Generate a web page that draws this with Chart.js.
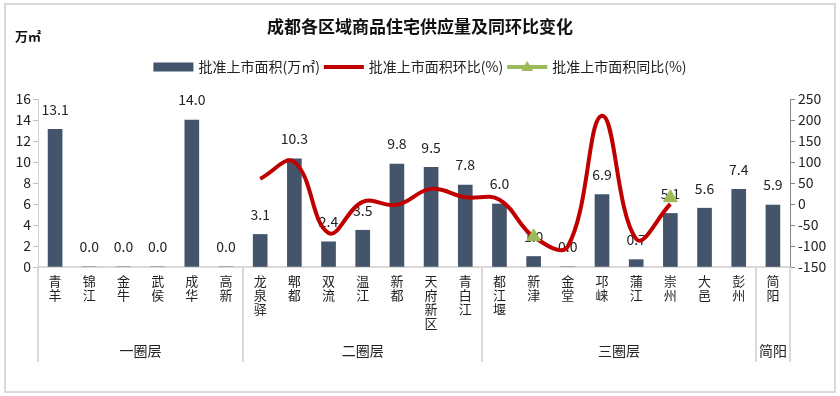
<!DOCTYPE html>
<html>
<head>
<meta charset="utf-8">
<script src="https://cdn.jsdelivr.net/npm/chart.js@4.4.0/dist/chart.umd.min.js"></script>
<style>
  html, body { margin: 0; padding: 0; background: #fff; }
</style>
</head>
<body>
<canvas id="supplyChart" width="840" height="396"></canvas>
<script>
  // districts along the x axis
  var districts = ['青羊', '锦江', '金牛', '武侯', '成华', '高新',
    '龙泉驿', '郫都', '双流', '温江', '新都', '天府新区', '青白江',
    '都江堰', '新津', '金堂', '邛崃', '蒲江', '崇州', '大邑', '彭州', '简阳'];

  // ring groups (start index of each group, last one ends at districts.length)
  var groupNames = ['一圈层', '二圈层', '三圈层', '简阳'];
  var groupStarts = [0, 6, 13, 21];

  // 批准上市面积 (万㎡)
  var supply = [13.1, 0.0, 0.0, 0.0, 14.0, 0.0, 3.1, 10.3, 2.4, 3.5, 9.8, 9.5, 7.8,
    6.0, 1.0, 0.0, 6.9, 0.7, 5.1, 5.6, 7.4, 5.9];

  // 环比 (%)
  var momChange = [null, null, null, null, null, null, 60, 100, -69, 5, -2, 36, 16,
    10, -78, -101, 210, -83, 0, null, null, null];

  // 同比 (%)
  var yoyChange = [null, null, null, null, null, null, null, null, null, null, null, null, null,
    null, -78, null, null, null, 15, null, null, null];

  var leftTicks = { min: 0, max: 16, step: 2 };
  var rightTicks = { min: -150, max: 250, step: 50 };

  var FONT = "'Noto Sans CJK SC', 'Noto Sans', sans-serif";
  Chart.defaults.font.family = FONT;
  Chart.defaults.color = '#222';

  var decor = {
    id: 'decor',
    beforeDraw: function (chart) {
      var c = chart.ctx;
      c.save();
      c.fillStyle = '#fff';
      c.fillRect(0, 0, chart.width, chart.height);
      c.strokeStyle = '#d9d9d9';
      c.lineWidth = 2;
      c.strokeRect(5, 4, chart.width - 10, chart.height - 8);
      c.restore();
    },
    afterDatasetDraw: function (chart, args) {
      // value labels above the bars, drawn before the lines
      if (args.index !== 0) return;
      var c = chart.ctx;
      c.save();
      c.font = '14px ' + FONT;
      c.fillStyle = '#222';
      c.textAlign = 'center';
      c.textBaseline = 'middle';
      args.meta.data.forEach(function (bar, i) {
        c.fillText(supply[i].toFixed(1), bar.x, bar.y - 20);
      });
      c.restore();
    },
    afterDraw: function (chart) {
      var c = chart.ctx;
      var x = chart.scales.x;
      c.save();

      // title + unit
      c.fillStyle = '#111';
      c.textAlign = 'center';
      c.textBaseline = 'middle';
      c.font = 'bold 17px ' + FONT;
      c.fillText('成都各区域商品住宅供应量及同环比变化', chart.width / 2, 27);
      c.textAlign = 'left';
      c.font = 'bold 13px ' + FONT;
      c.fillText('万㎡', 15, 36);

      // legend
      c.font = '14px ' + FONT;
      var ds = chart.data.datasets;
      var sw = 40, gap = 5, between = 4;
      var total = 0;
      ds.forEach(function (d, i) {
        total += sw + gap + c.measureText(d.label).width + (i < ds.length - 1 ? between : 0);
      });
      var lx = chart.width / 2 - total / 2;
      var ly = 67;
      ds.forEach(function (d, i) {
        if (i === 0) {
          c.fillStyle = d.backgroundColor;
          c.fillRect(lx, ly - 4.5, sw, 9);
        } else {
          c.strokeStyle = d.borderColor;
          c.lineWidth = 4;
          c.beginPath();
          c.moveTo(lx, ly);
          c.lineTo(lx + sw, ly);
          c.stroke();
          if (d.pointStyle === 'triangle') {
            c.fillStyle = d.backgroundColor;
            c.beginPath();
            c.moveTo(lx + sw / 2, ly - 6);
            c.lineTo(lx + sw / 2 + 6, ly + 4);
            c.lineTo(lx + sw / 2 - 6, ly + 4);
            c.closePath();
            c.fill();
          }
        }
        c.fillStyle = '#222';
        c.textAlign = 'left';
        c.fillText(d.label, lx + sw + gap, ly);
        lx += sw + gap + c.measureText(d.label).width + between;
      });

      // group separators and group names
      var step = (x.right - x.left) / districts.length;
      var bounds = groupStarts.concat([districts.length]);
      c.strokeStyle = '#d9d9d9';
      c.lineWidth = 2;
      bounds.forEach(function (k) {
        var px = Math.round(x.left + step * k);
        c.beginPath();
        c.moveTo(px, x.top);
        c.lineTo(px, 362);
        c.stroke();
      });
      c.fillStyle = '#222';
      c.textAlign = 'center';
      c.font = '14px ' + FONT;
      groupNames.forEach(function (name, g) {
        var mid = x.left + step * (bounds[g] + bounds[g + 1]) / 2;
        c.fillText(name, mid, 351);
      });
      c.restore();
    }
  };

  var ctx = document.getElementById('supplyChart').getContext('2d');

  var supplyChart = new Chart(ctx, {
    data: {
      labels: districts.map(function (d) { return d.split(''); }),
      datasets: [
        {
          type: 'bar',
          label: '批准上市面积(万㎡)',
          data: supply,
          backgroundColor: '#44546A',
          barThickness: 14,
          yAxisID: 'y',
          order: 3
        },
        {
          type: 'line',
          label: '批准上市面积环比(%)',
          data: momChange,
          borderColor: '#C00000',
          backgroundColor: '#C00000',
          borderWidth: 4,
          pointRadius: 0,
          tension: 0.4,
          spanGaps: false,
          yAxisID: 'y1',
          order: 2
        },
        {
          type: 'line',
          label: '批准上市面积同比(%)',
          data: yoyChange,
          borderColor: '#9BBB59',
          backgroundColor: '#9BBB59',
          showLine: false,
          pointStyle: 'triangle',
          pointRadius: 8,
          yAxisID: 'y1',
          order: 1
        }
      ]
    },
    options: {
      responsive: false,
      animation: false,
      devicePixelRatio: 1,
      layout: { padding: { top: 99, left: 0, right: 0, bottom: 0 } },
      plugins: {
        legend: { display: false },
        title: { display: false },
        tooltip: { enabled: false }
      },
      scales: {
        x: {
          grid: { display: true, drawOnChartArea: false, drawTicks: false },
          border: { color: '#d9d9d9', width: 2 },
          ticks: {
            autoSkip: false, maxRotation: 0, padding: 7,
            font: { size: 13, lineHeight: '14px' }, color: '#222'
          },
          afterFit: function (scale) { scale.height = 129; }
        },
        y: {
          position: 'left',
          min: leftTicks.min, max: leftTicks.max,
          grid: { drawOnChartArea: false, drawTicks: true, tickLength: 5, color: '#bfbfbf' },
          border: { color: '#d0d0d0', width: 1 },
          ticks: { stepSize: leftTicks.step, padding: 2, font: { size: 14 }, color: '#222' },
          afterFit: function (scale) { scale.width = 38; }
        },
        y1: {
          position: 'right',
          min: rightTicks.min, max: rightTicks.max,
          grid: { drawOnChartArea: false, drawTicks: true, tickLength: 5, color: '#868686' },
          border: { color: '#868686', width: 1 },
          ticks: { stepSize: rightTicks.step, padding: 3, font: { size: 14 }, color: '#222' },
          afterFit: function (scale) { scale.width = 50; }
        }
      }
    },
    plugins: [decor]
  });
</script>
</body>
</html>
